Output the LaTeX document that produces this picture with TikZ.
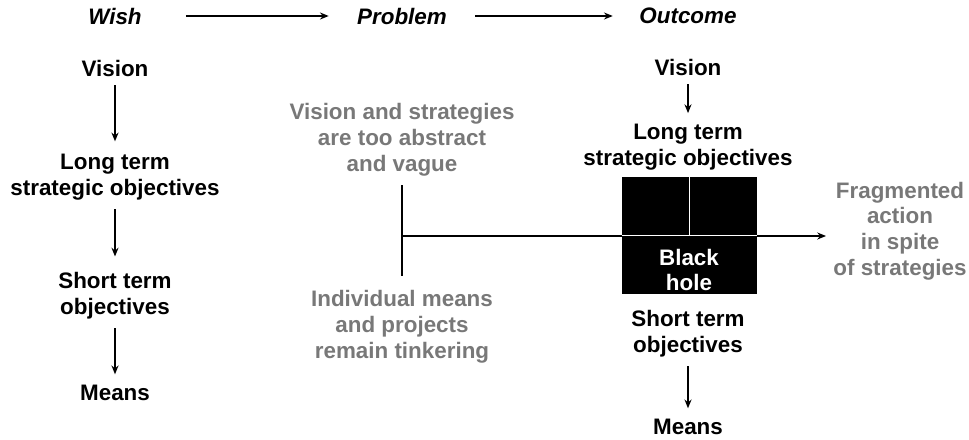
\documentclass[tikz,border=0pt]{standalone}
\usepackage{fontspec}
\setmainfont{Liberation Sans}
\usetikzlibrary{arrows.meta}
\definecolor{holeGray}{RGB}{120, 120, 120}

\begin{document}
\begin{tikzpicture}[x=0.02cm, y=-0.02cm]
    \tikzstyle{lbl} = [inner sep=0pt, align=center, font=\fontsize{12.75}{14.7}\selectfont\bfseries]
    \tikzstyle{head} = [lbl, font=\fontsize{12.75}{14.7}\selectfont\bfseries\itshape]
    \tikzstyle{note} = [lbl, text=holeGray]
    \tikzstyle{arrow} = [-{Stealth[length=5pt, width=4pt]}, line width=0.9pt]
    \useasboundingbox (0,0) rectangle (969,439);

    % headings
    \node[head] (wish) at (115,16) {Wish};
    \node[head] (problem) at (402,16) {Problem};
    \node[head] (outcome) at (688,16) {Outcome};
    \draw[arrow, shorten <=25pt, shorten >=16pt] (wish) -- (problem);
    \draw[arrow, shorten <=16pt, shorten >=15pt] (problem) -- (outcome);

    % wish column
    \node[lbl] (vis1) at (115,68) {Vision};
    \node[lbl] (lts1) at (115,177) {Long term\\strategic objectives};
    \node[lbl] (sts1) at (115,296) {Short term\\objectives};
    \node[lbl] (means1) at (115,393) {Means};
    \draw[arrow, shorten <=5pt, shorten >=7pt] (vis1) -- (lts1);
    \draw[arrow, shorten <=5pt, shorten >=9pt] (lts1) -- (sts1);
    \draw[arrow, shorten <=5pt, shorten >=6pt] (sts1) -- (means1);

    % problem column
    \node[note] (abstract) at (402,140) {Vision and strategies\\are too abstract\\and vague};
    \node[note] (tinker) at (402,327) {Individual means\\and projects\\remain tinkering};
    \coordinate (join) at (402,236);
    \coordinate (fragin) at (826,236);
    \draw[line width=0.9pt, shorten <=5pt, shorten >=8pt] (abstract) -- (tinker);
    \draw[arrow] (join) -- (fragin);

    % outcome column
    \node[lbl] (vis2) at (688,67) {Vision};
    \node[lbl] (lts2) at (688,147) {Long term\\strategic objectives};
    \node[fill=black, minimum width=2.7cm, minimum height=2.34cm, inner sep=0pt] (hole) at (689.5,235.5) {};
    \draw[white, line width=1.1pt] (hole.west) -- (hole.east);
    \draw[white, line width=1.1pt] (hole.north) -- (hole.center);
    \node[lbl, text=white] (holetxt) at (689,270) {Black\\hole};
    \node[lbl] (sts2) at (688,334) {Short term\\objectives};
    \node[lbl] (means2) at (688,427) {Means};
    \draw[arrow, shorten <=5pt, shorten >=6pt] (vis2) -- (lts2);
    \draw[arrow, shorten <=5pt, shorten >=6pt] (sts2) -- (means2);
    \node[note] (frag) at (900,231) {Fragmented\\action\\in spite\\of strategies};
\end{tikzpicture}
\end{document}
